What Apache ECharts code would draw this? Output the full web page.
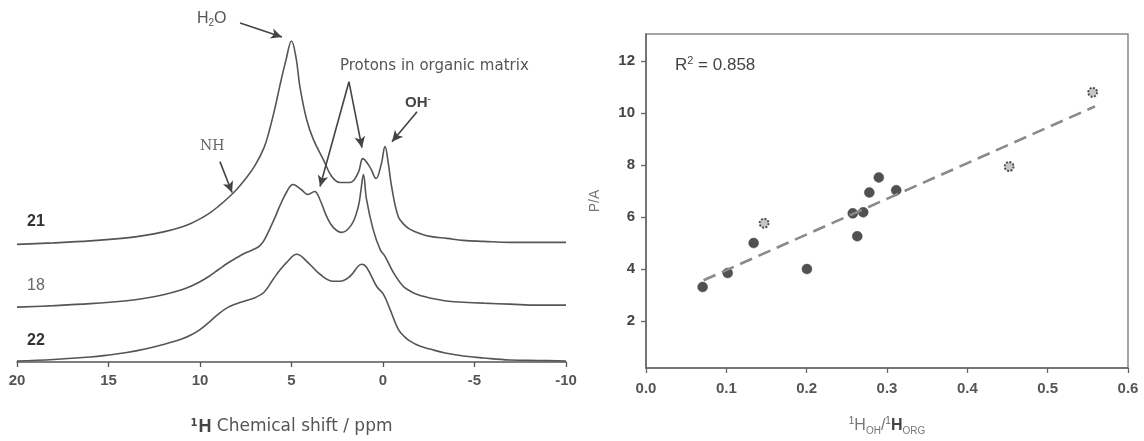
<!DOCTYPE html>
<html>
<head>
<meta charset="utf-8">
<script src="https://cdn.jsdelivr.net/npm/echarts@6/dist/echarts.min.js"></script>
<style>html,body{margin:0;padding:0;background:#fff}#c{width:1144px;height:441px}</style>
</head>
<body>
<div id="c"></div>
<script>
// ---------- Left panel: 1H NMR spectra (chemical shift in ppm, intensity in arbitrary units) ----------
const shift21 = [20, 18, 16, 14, 13, 12, 11, 10.5, 10, 9.5, 9, 8.5, 8, 7.5, 7, 6.5, 6.2, 5.9, 5.65, 5.3, 5.0, 4.75, 4.54, 4.17, 3.8, 3.26, 2.8, 2.35, 1.8, 1.35, 1.1, 0.7, 0.38, 0.1, -0.11, -0.3, -0.47, -0.83, -1.2, -1.48, -2, -2.57, -3.5, -4.39, -5.5, -6.94, -8.5, -10];
const int21   = [118, 119.5, 121.5, 124.5, 127, 130.5, 135.5, 139, 143.5, 149, 156, 164, 173, 184, 197, 215, 233, 255, 276, 303, 322, 305, 276, 243, 223, 203, 186, 180, 180, 190, 204, 195, 184, 198, 216, 198, 176, 146, 137, 133, 129, 126, 124, 122, 121, 120, 120, 120];

const shift18 = [20, 18, 16, 14, 13, 12, 11, 10.5, 10, 9.5, 9, 8.5, 8, 7.5, 7, 6.74, 6.5, 6.2, 5.9, 5.65, 5.25, 4.92, 4.47, 4.1, 3.74, 3.45, 3.08, 2.72, 2.26, 1.71, 1.35, 1.2, 1.07, 0.9, 0.54, 0.16, -0.11, -0.56, -1.1, -1.5, -1.84, -2.4, -2.93, -3.6, -4.39, -5.5, -6.94, -8.5, -10];
const int18   = [55, 56.5, 58.5, 61.5, 64, 67.5, 72.5, 76, 80.5, 86, 92.5, 99, 104.5, 109.5, 113.5, 116.5, 122, 133, 145, 156, 171, 178, 173, 168, 171, 163, 146, 135, 130, 138, 156, 173, 188, 163, 133, 113, 106, 90, 76, 71, 68, 65, 63, 61, 60, 59, 58, 57, 57];

const shift22 = [20, 18, 16, 15, 14, 13, 12, 11, 10.5, 10, 9.5, 9, 8.5, 8, 7.5, 7, 6.5, 6.0, 5.6, 5.26, 4.71, 4.17, 3.44, 2.72, 2.35, 1.8, 1.16, 0.9, 0.35, -0.02, -0.38, -0.83, -1.2, -1.48, -2, -2.57, -3.4, -4.39, -5.5, -6.94, -8.5, -10];
const int22   = [1, 2.5, 5, 7, 9.5, 13, 17.5, 23, 27, 32.5, 40, 48, 54.5, 58.5, 61.5, 64.5, 70, 83, 93, 100, 108, 101, 88, 81, 81, 86, 98, 95, 76, 68, 53, 33, 25, 21, 16, 13, 9, 6, 4, 2, 1.5, 1];

const sampleNames = ['21', '18', '22'];

// annotation arrows [fromShift, fromInt, toShift, toInt]
const arrows = [
  [7.81, 340, 5.52, 326],   // H2O
  [1.86, 281, 1.15, 215],   // protons -> 1.1 ppm
  [1.86, 281, 3.44, 176],   // protons -> 3.7 ppm
  [-1.86, 251, -0.49, 221], // OH-
  [8.91, 201, 8.25, 170]    // NH
];

// ---------- Right panel: P/A vs 1H_OH / 1H_ORG ----------
const ratioFilled = [0.0705, 0.1017, 0.134, 0.2003, 0.2574, 0.2704, 0.263, 0.278, 0.2898, 0.3115];
const paFilled    = [3.31, 3.85, 5.0, 4.0, 6.14, 6.18, 5.26, 6.94, 7.52, 7.03];
const ratioOpen   = [0.147, 0.452, 0.556];
const paOpen      = [5.76, 7.94, 10.79];
const fitRatio    = [0.0717, 0.559];
const fitPA       = [3.57, 10.25];
const rSquared    = '0.858';
const paTicks     = [2, 4, 6, 8, 10, 12];

const zip = (a, b) => a.map((v, i) => [v, b[i]]);

const chart = echarts.init(document.getElementById('c'), null, {renderer: 'canvas'});

const specLine = {color: '#555', width: 1.6};
const baseFont = 'Arial, "Liberation Sans", sans-serif';

const option = {
  backgroundColor: '#fff',
  animation: false,
  grid: [
    {left: 17, right: 578, top: 20, bottom: 78},
    {left: 646, right: 16, top: 34, bottom: 71, show: true, borderColor: '#888', borderWidth: 1.5}
  ],
  xAxis: [
    {
      gridIndex: 0, type: 'value', inverse: true, min: -10, max: 20, interval: 5,
      axisLine: {show: true, onZero: false, lineStyle: {color: '#555', width: 1.5}},
      axisTick: {show: true, inside: false, length: 5, lineStyle: {color: '#555', width: 1.3}},
      splitLine: {show: false},
      axisLabel: {margin: 11, fontSize: 15, fontWeight: 'bold', color: '#555', fontFamily: baseFont,
        formatter: v => String(v)},
      name: '{sup|1}{b|H} Chemical shift / ppm',
      nameLocation: 'middle', nameGap: 56,
      nameTextStyle: {fontSize: 17, color: '#555', fontFamily: 'DejaVu Sans, sans-serif',
        rich: {
          sup: {fontSize: 10, fontWeight: 'bold', color: '#444', verticalAlign: 'top', padding: [0, 1, 8, 0]},
          b: {fontSize: 18, fontWeight: 'bold', color: '#444', fontFamily: baseFont}
        }}
    },
    {
      gridIndex: 1, type: 'value', min: 0, max: 0.6, interval: 0.1,
      axisLine: {show: true, onZero: false, lineStyle: {color: '#666', width: 1.5}},
      axisTick: {show: true, inside: false, length: 5, lineStyle: {color: '#666', width: 1.3}},
      splitLine: {show: false},
      axisLabel: {margin: 13, fontSize: 15, fontWeight: 'bold', color: '#555', fontFamily: baseFont,
        formatter: v => v.toFixed(1)},
      name: '{sup|1}{n|H}{sub|OH}{n|/}{sup|1}{b|H}{sub|ORG}',
      nameLocation: 'middle', nameGap: 48,
      nameTextStyle: {color: '#666', fontFamily: baseFont,
        rich: {
          sup: {fontSize: 10, color: '#666', verticalAlign: 'top', padding: [0, 0, 9, 0]},
          n: {fontSize: 16, color: '#777'},
          b: {fontSize: 16, color: '#444', fontWeight: 'bold'},
          sub: {fontSize: 10, color: '#777', padding: [10, 0, 0, 0]}
        }}
    }
  ],
  yAxis: [
    {gridIndex: 0, type: 'value', min: 0, max: 343, show: false},
    {
      gridIndex: 1, type: 'value', min: 0.2, max: 13.03,
      axisLine: {show: true, onZero: false, lineStyle: {color: '#666', width: 1.5}},
      axisTick: {show: true, inside: false, length: 5, customValues: paTicks, lineStyle: {color: '#666', width: 1.3}},
      splitLine: {show: false},
      axisLabel: {margin: 11, fontSize: 15, fontWeight: 'bold', color: '#444', fontFamily: baseFont,
        customValues: paTicks},
      name: 'P/A', nameLocation: 'middle', nameGap: 44, nameRotate: 90,
      nameTextStyle: {fontSize: 14, color: '#777', fontFamily: baseFont}
    }
  ],
  series: [
    {name: sampleNames[0], type: 'line', xAxisIndex: 0, yAxisIndex: 0, data: zip(shift21, int21),
      smooth: 0.4, showSymbol: false, lineStyle: specLine, silent: true},
    {name: sampleNames[1], type: 'line', xAxisIndex: 0, yAxisIndex: 0, data: zip(shift18, int18),
      smooth: 0.4, showSymbol: false, lineStyle: specLine, silent: true},
    {name: sampleNames[2], type: 'line', xAxisIndex: 0, yAxisIndex: 0, data: zip(shift22, int22),
      smooth: 0.4, showSymbol: false, lineStyle: specLine, silent: true},
    {name: 'arrows', type: 'line', xAxisIndex: 0, yAxisIndex: 0, data: [], silent: true,
      markLine: {
        silent: true, symbol: ['none', 'arrow'], symbolSize: [8, 11], animation: false,
        label: {show: false},
        lineStyle: {type: 'solid', color: '#444', width: 1.6},
        data: arrows.map(a => [{coord: [a[0], a[1]]}, {coord: [a[2], a[3]]}])
      }},
    {name: 'fit', type: 'line', xAxisIndex: 1, yAxisIndex: 1, data: zip(fitRatio, fitPA),
      showSymbol: false, silent: true,
      lineStyle: {color: '#8a8a8a', width: 2.6, type: [13, 7]}},
    {name: 'filled', type: 'scatter', xAxisIndex: 1, yAxisIndex: 1, data: zip(ratioFilled, paFilled),
      symbol: 'circle', symbolSize: 10, silent: true,
      itemStyle: {color: '#262626', borderColor: '#444', borderWidth: 0.5}},
    {name: 'open', type: 'scatter', xAxisIndex: 1, yAxisIndex: 1, data: zip(ratioOpen, paOpen),
      symbol: 'circle', symbolSize: 9, silent: true,
      itemStyle: {color: '#b8b8b8', borderColor: '#222', borderWidth: 1.8, borderType: [2, 1.5]}}
  ],
  graphic: [
    {type: 'text', left: 27, top: 214, style: {text: sampleNames[0], font: 'bold 16px ' + baseFont, fill: '#333'}},
    {type: 'text', left: 27, top: 278, style: {text: sampleNames[1], font: '16px ' + baseFont, fill: '#666'}},
    {type: 'text', left: 27, top: 333, style: {text: sampleNames[2], font: 'bold 16px ' + baseFont, fill: '#333'}},
    {type: 'text', left: 197, top: 11, style: {
      text: '{n|H}{s|2}{n|O}',
      rich: {n: {fontSize: 16, fill: '#555', fontFamily: baseFont}, s: {fontSize: 10, fill: '#555', padding: [8, 0, 0, 0]}}
    }},
    {type: 'text', left: 340, top: 59, style: {text: 'Protons in organic matrix', font: '15px "DejaVu Sans", sans-serif', fill: '#555'}},
    {type: 'text', left: 405, top: 94, style: {
      text: '{n|OH}{s|-}',
      rich: {n: {fontSize: 15, fontWeight: 'bold', fill: '#444', fontFamily: baseFont}, s: {fontSize: 10, fill: '#444', padding: [0, 0, 8, 0]}}
    }},
    {type: 'text', left: 200, top: 139, style: {text: 'NH', font: '14px "DejaVu Serif", serif', fill: '#666'}},
    {type: 'text', left: 675, top: 55, style: {
      text: '{n|R}{s|2}{n| = ' + rSquared + '}',
      rich: {n: {fontSize: 17, fill: '#444', fontFamily: baseFont}, s: {fontSize: 11, fill: '#444', padding: [0, 0, 9, 0]}}
    }}
  ]
};
chart.setOption(option);
</script>
</body>
</html>
